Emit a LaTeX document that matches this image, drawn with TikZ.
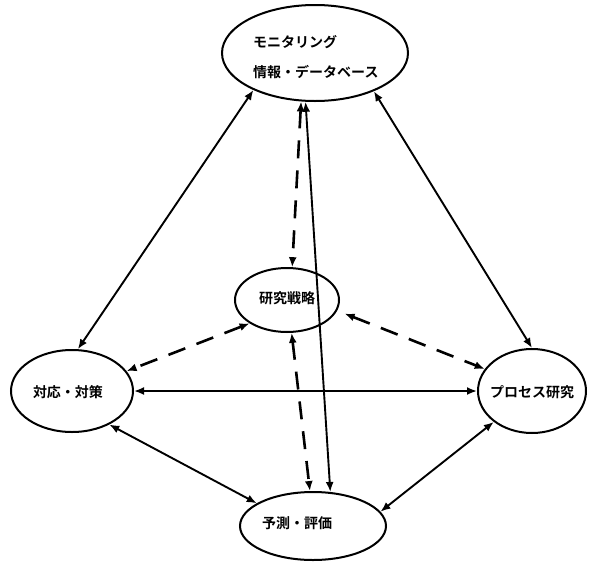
\documentclass[tikz,border=0pt]{standalone}
\usepackage{fontspec}
\setmainfont{Noto Sans CJK JP}[BoldFont={Noto Sans CJK JP Bold}]
\usetikzlibrary{shapes.geometric,arrows.meta}
\begin{document}
\begin{tikzpicture}[x=1pt,y=-1pt,
  oval/.style={draw,ellipse,line width=2pt,inner sep=0pt},
  lbl/.style={font=\fontsize{14}{30}\selectfont\bfseries,inner sep=0pt},
  both/.style={{Latex[length=10pt,width=8pt]}-{Latex[length=10pt,width=8pt]},line width=1.9pt},
  dash2/.style={both,line width=2.6pt,dash pattern=on 18pt off 12pt}]
\fill[white] (0,0) rectangle (590,563);
\useasboundingbox (0,0) rectangle (590,563);
% ellipses
\node[oval,minimum width=186pt,minimum height=96pt] (T) at (315,53) {};
\node[oval,minimum width=104pt,minimum height=64pt] (M) at (287,300) {};
\node[oval,minimum width=122pt,minimum height=82pt] (L) at (72,391) {};
\node[oval,minimum width=108pt,minimum height=84pt] (R) at (532,391) {};
\node[oval,minimum width=146pt,minimum height=68pt] (B) at (313,526) {};
% texts
\node[lbl,anchor=west,align=left] (Tt) at (253,57) {モニタリング\\情報・データベース};
\node[lbl] (Mt) at (287,298) {研究戦略};
\node[lbl] (Lt) at (68,392) {対応・対策};
\node[lbl] (Rt) at (532,392) {プロセス研究};
\node[lbl] (Bt) at (297,523) {予測・評価};
% solid connectors
\draw[both] (T.211) -- (L.82);
\draw[both] (T.327) -- (R.90);
\draw[both] (T.259) -- (B.63);
\draw[both] (L.east) -- (R.west);
\draw[both] (L.318) -- (B.158);
\draw[both] (R.219) -- (B.12);
% dashed connectors
\draw[dash2] (T.254) -- (M.81);
\draw[dash2] (M.212) -- (L.20);
\draw[dash2,shorten <=8pt] (M.348) -- (R.155);
\draw[dash2] (M.278) -- (B.95);
\end{tikzpicture}
\end{document}
